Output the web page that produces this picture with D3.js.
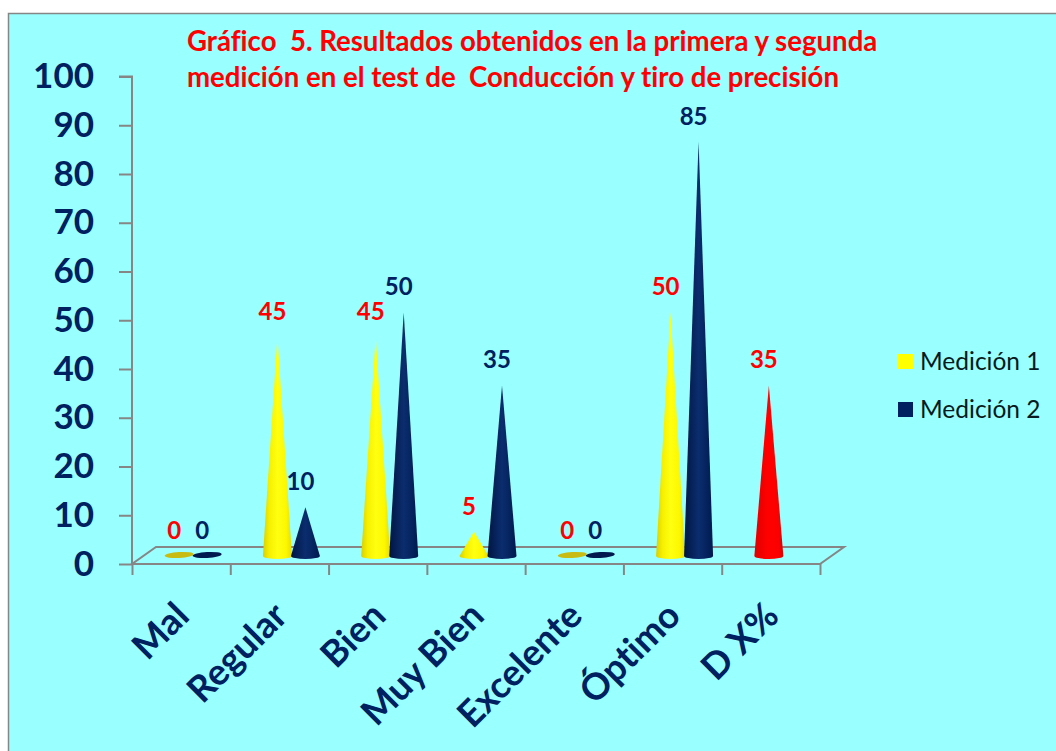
<!DOCTYPE html>
<html lang="es">
<head>
<meta charset="utf-8">
<script src="https://cdn.jsdelivr.net/npm/d3@7/dist/d3.min.js"></script>
<style>
  html, body { margin: 0; padding: 0; background: #fff; overflow: hidden; }
  svg { display: block; font-family: Lato, "Open Sans", sans-serif; font-variant-ligatures: none; }
</style>
</head>
<body>
<svg id="chart" width="1056" height="751"></svg>
<script>
// Chart values
const categories = ["Mal", "Regular", "Bien", "Muy Bien", "Excelente", "Óptimo", "D X%"];
const medicion1 = [0, 45, 45, 5, 0, 50, 35];
const medicion2 = [0, 10, 50, 35, 0, 85, null];
const seriesNames = ["Medición 1", "Medición 2"];
const yTicks = [0, 10, 20, 30, 40, 50, 60, 70, 80, 90, 100];
const titleLines = [
  "Gráfico  5. Resultados obtenidos en la primera y segunda",
  "medición en el test de  Conducción y tiro de precisión"
];

const NAVY = "#002060", RED = "#ff0000", GREY = "#868686";

const svg = d3.select("#chart");
const defs = svg.append("defs");

// Panel behind the chart
svg.append("rect")
  .attr("x", 8.5).attr("y", 13.5).attr("width", 1060).attr("height", 750)
  .attr("fill", "#99ffff").attr("stroke", GREY).attr("stroke-width", 1.5);

// Scales for the front plane of the box, plus the shift into its depth
const x = d3.scaleBand().domain(categories).range([132, 820]);
const xEdge = d3.scaleLinear().domain([0, categories.length]).range([132, 820]);
const y = d3.scaleLinear().domain([0, 100]).range([564, 76.5]);
const depthX = 24, depthY = -17;
const coneShiftX = 12, coneShiftY = -8;
const series = d3.scaleBand().domain([0, 1]).range([-28, 28]);
const coneRadius = 14.5, coneRy = 3;

// Shaded fills that give the cones their round look
function gradient(id, stops) {
  const g = defs.append("linearGradient").attr("id", id)
    .attr("x1", 0).attr("x2", 1).attr("y1", 0).attr("y2", 0);
  stops.forEach(([o, c]) => g.append("stop").attr("offset", o).attr("stop-color", c));
}
gradient("coneYellow", [[0, "#d9cf00"], [0.22, "#f6f000"], [0.5, "#ffff10"], [0.8, "#fdf800"], [1, "#e6dc00"]]);
gradient("coneNavy", [[0, "#001642"], [0.5, "#0b2d6e"], [1, "#001a50"]]);
gradient("coneRed", [[0, "#dd0000"], [0.45, "#ff0000"], [0.85, "#fb0000"], [1, "#d80000"]]);

// Floor of the box
const floorPts = [
  [xEdge(0), y(0)], [xEdge(7), y(0)],
  [xEdge(7) + depthX, y(0) + depthY], [xEdge(0) + depthX, y(0) + depthY]
];
svg.append("path")
  .attr("d", d3.line()(floorPts) + "Z")
  .attr("fill", "none").attr("stroke", GREY).attr("stroke-width", 2);

// Value axis
const yAxis = svg.append("g")
  .attr("transform", `translate(${xEdge(0)},0)`)
  .call(d3.axisLeft(y).tickValues(yTicks).tickSize(13).tickPadding(25));
yAxis.selectAll("path, line").attr("stroke", GREY).attr("stroke-width", 2);
yAxis.select(".domain").attr("d", `M-13,${y(100)}H0V${y(0)}`);
yAxis.attr("font-family", "Lato");
yAxis.selectAll("text")
  .attr("fill", NAVY).attr("font-size", 35).attr("font-weight", 700);

// Category tick marks fall on the band edges
const xTicks = svg.append("g")
  .attr("transform", `translate(0,${y(0)})`)
  .call(d3.axisBottom(xEdge).tickValues(d3.range(categories.length + 1)).tickSize(11).tickFormat(""));
xTicks.select(".domain").remove();
xTicks.selectAll("line").attr("stroke", GREY).attr("stroke-width", 2);

// Category labels, slanted
const xLabels = svg.append("g")
  .attr("transform", `translate(0,${y(0)})`)
  .call(d3.axisBottom(x).tickSize(0).tickFormat(d => d));
xLabels.select(".domain").remove();
xLabels.attr("font-family", "Lato");
xLabels.selectAll("text")
  .attr("fill", NAVY).attr("font-size", 36.5).attr("font-weight", 700)
  .attr("text-anchor", "end").attr("dy", 0).attr("y", 0)
  .attr("transform", "translate(10,54) rotate(-45)");

// Cone outline: two sides running to the apex and a rounded base
function conePath(cx, value) {
  const base = y(0) + coneShiftY, tip = y(value) + coneShiftY;
  return `M${cx - coneRadius},${base}L${cx},${tip}L${cx + coneRadius},${base}` +
         `A${coneRadius},${coneRy} 0 0 1 ${cx - coneRadius},${base}Z`;
}

const rows = [];
categories.forEach((c, i) => {
  [medicion1[i], medicion2[i]].forEach((v, s) => {
    if (v === null) return;
    const cx = x(c) + x.bandwidth() / 2 + coneShiftX + series(s) + series.bandwidth() / 2;
    rows.push({ c, v, s, cx });
  });
});
const isLast = d => d.c === "D X%";
const fillFor = d => isLast(d) ? "url(#coneRed)" : d.s === 0 ? "url(#coneYellow)" : "url(#coneNavy)";

const marks = svg.append("g");
marks.selectAll("path.cone").data(rows.filter(d => d.v > 0)).join("path")
  .attr("class", "cone")
  .attr("d", d => conePath(d.cx, d.v))
  .attr("fill", fillFor);

// A zero value collapses to just its flat base
marks.selectAll("ellipse.base").data(rows.filter(d => d.v === 0)).join("ellipse")
  .attr("class", "base")
  .attr("cx", d => d.cx).attr("cy", y(0) + coneShiftY - 1)
  .attr("rx", coneRadius).attr("ry", coneRy)
  .attr("transform", d => `rotate(-3 ${d.cx} ${y(0) + coneShiftY - 1})`)
  .attr("fill", d => d.s === 0 ? "#c8bc12" : "#001a50");

// Value labels above each cone
svg.append("g").selectAll("text").data(rows).join("text")
  .attr("x", d => d.cx - 5)
  .attr("y", d => y(d.v) + coneShiftY - 17)
  .attr("text-anchor", "middle")
  .attr("font-size", 24).attr("font-weight", 700)
  .attr("fill", d => d.s === 0 ? RED : NAVY)
  .text(d => d.v);

// Title
svg.append("g").selectAll("text").data(titleLines).join("text")
  .attr("x", 187).attr("y", (d, i) => 51 + i * 36)
  .attr("font-size", 27.6).attr("font-weight", 700).attr("fill", RED)
  .style("white-space", "pre")
  .text(d => d);

// Legend
const legend = svg.append("g").selectAll("g").data(seriesNames).join("g")
  .attr("transform", (d, i) => `translate(898,${354 + i * 48})`);
legend.append("rect").attr("width", 15).attr("height", 15)
  .attr("fill", (d, i) => i === 0 ? "#ffff00" : NAVY);
legend.append("text").attr("x", 22).attr("y", 15.5)
  .attr("font-size", 24.5).attr("fill", "#0a1a20").text(d => d);
</script>
</body>
</html>
